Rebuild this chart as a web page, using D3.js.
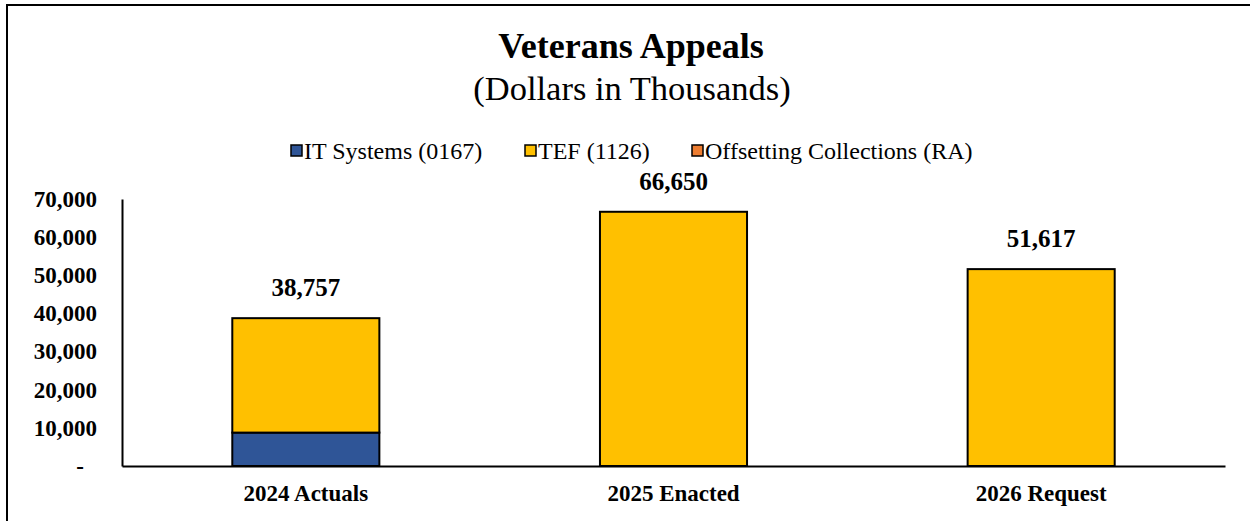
<!DOCTYPE html>
<html>
<head>
<meta charset="utf-8">
<script src="https://cdn.jsdelivr.net/npm/d3@7"></script>
<style>
  html, body { margin: 0; padding: 0; background: #fff; }
  svg { display: block; font-family: "Liberation Serif", "Times New Roman", serif; }
</style>
</head>
<body>
<svg id="chart" width="1250" height="521"></svg>
<script>
// Budget categories and funding sources (dollars in thousands)
const categories = ["2024 Actuals", "2025 Enacted", "2026 Request"];
const seriesNames = ["IT Systems (0167)", "TEF (1126)", "Offsetting Collections (RA)"];
const seriesColors = ["#2F5597", "#FFC000", "#ED7D31"];
const itSystems = [8757, 0, 0];
const tef = [30000, 66650, 51617];
const offsetting = [0, 0, 0];
const totals = [38757, 66650, 51617];
const yTicks = [0, 10000, 20000, 30000, 40000, 50000, 60000, 70000];

const svg = d3.select("#chart");
const W = 1250, H = 521;
const margin = { left: 122, right: 25, top: 199, bottom: 55 };

// Frame around the chart area
svg.append("path")
  .attr("d", `M7,${H + 5} L7,5 L${W + 5},5`)
  .attr("fill", "none").attr("stroke", "#000").attr("stroke-width", 2);

// Titles
svg.append("text").attr("x", 631).attr("y", 58).attr("text-anchor", "middle")
  .attr("font-size", 36).attr("font-weight", "bold").text("Veterans Appeals");
svg.append("text").attr("x", 632).attr("y", 100).attr("text-anchor", "middle")
  .attr("font-size", 34.5).text("(Dollars in Thousands)");

// Stacked data
const rows = categories.map((c, i) => ({
  cat: c,
  [seriesNames[0]]: itSystems[i],
  [seriesNames[1]]: tef[i],
  [seriesNames[2]]: offsetting[i]
}));
const stack = d3.stack().keys(seriesNames)(rows);

const x = d3.scaleBand().domain(categories)
  .range([margin.left, W - margin.right]).paddingInner(0.6).paddingOuter(0.3);
const y = d3.scaleLinear().domain([0, 70000]).range([H - margin.bottom, margin.top]);

// Bars
stack.forEach((layer, si) => {
  svg.append("g").selectAll("rect").data(layer).enter()
    .filter(d => d[1] - d[0] > 0)
    .append("rect")
    .attr("x", d => x(d.data.cat))
    .attr("width", x.bandwidth())
    .attr("y", d => y(d[1]))
    .attr("height", d => y(d[0]) - y(d[1]))
    .attr("fill", seriesColors[si])
    .attr("stroke", "#000").attr("stroke-width", 2);
});

// Y axis
const yAxis = d3.axisLeft(y).tickValues(yTicks)
  .tickFormat(v => v === 0 ? "-" : d3.format(",")(v)).tickSize(0).tickPadding(25);
const gy = svg.append("g").attr("transform", `translate(${margin.left},0)`).call(yAxis);
gy.select(".domain").attr("stroke", "#000").attr("stroke-width", 2);
gy.selectAll("text").attr("font-family", "Liberation Serif").attr("font-size", 23)
  .attr("font-weight", "bold").attr("fill", "#000");
gy.selectAll(".tick").filter(d => d === 0).select("text").attr("dx", -13);

// X axis
const xAxis = d3.axisBottom(x).tickSize(0).tickPadding(0);
const gx = svg.append("g").attr("transform", `translate(0,${y(0)})`).call(xAxis);
gx.select(".domain").attr("stroke", "#000").attr("stroke-width", 2);
gx.selectAll("text").attr("font-family", "Liberation Serif").attr("font-size", 23)
  .attr("font-weight", "bold").attr("fill", "#000")
  .attr("dy", null).attr("y", 35);

// Total labels
svg.append("g").selectAll("text").data(categories).enter().append("text")
  .attr("x", c => x(c) + x.bandwidth() / 2)
  .attr("y", (c, i) => y(totals[i]) - 22)
  .attr("text-anchor", "middle").attr("font-size", 25).attr("font-weight", "bold")
  .text((c, i) => d3.format(",")(totals[i]));

// Legend
const legendX = [291, 525, 692];
const lg = svg.append("g");
seriesNames.forEach((name, i) => {
  lg.append("rect").attr("x", legendX[i]).attr("y", 145).attr("width", 11).attr("height", 11)
    .attr("fill", seriesColors[i]).attr("stroke", "#000").attr("stroke-width", 1.5);
  lg.append("text").attr("x", legendX[i] + 13).attr("y", 159)
    .attr("font-size", 24).text(name);
});
</script>
</body>
</html>
